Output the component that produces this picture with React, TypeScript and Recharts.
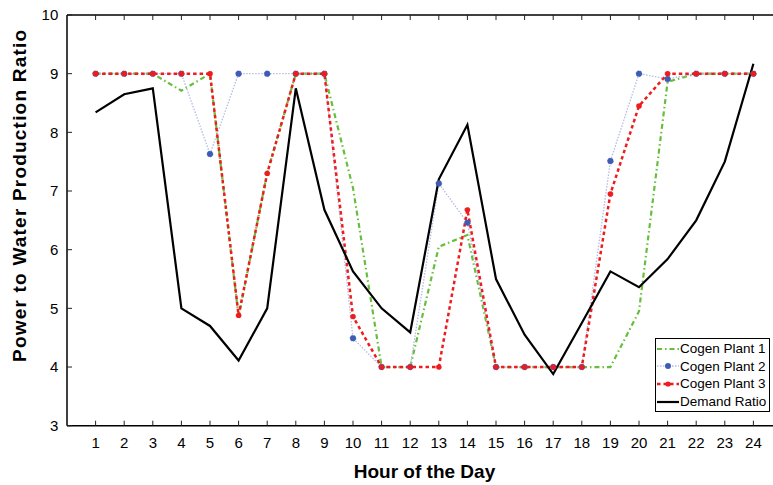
import { Legend, Line, LineChart, XAxis, YAxis } from "recharts";

const hours = [1, 2, 3, 4, 5, 6, 7, 8, 9, 10, 11, 12, 13, 14, 15, 16, 17, 18, 19, 20, 21, 22, 23, 24];
const cogenPlant1 = [9, 9, 9, 8.71, 9, 4.86, 7.31, 9, 9, 7.05, 4, 4, 6.05, 6.25, 4, 4, 4, 4, 4, 4.95, 8.86, 9, 9, 9];
const cogenPlant2 = [9, 9, 9, 9, 7.63, 9, 9, 9, 9, 4.49, 4, 4, 7.13, 6.46, 4, 4, 4, 4, 7.51, 9, 8.91, 9, 9, 9];
const cogenPlant3 = [9, 9, 9, 9, 9, 4.88, 7.3, 9, 9, 4.86, 4, 4, 4, 6.68, 4, 4, 4, 4, 6.95, 8.45, 9, 9, 9, 9];
const demandRatio = [8.34, 8.65, 8.75, 5.0, 4.7, 4.11, 5.0, 8.75, 6.68, 5.63, 5.0, 4.59, 7.2, 8.13, 5.5, 4.55, 3.88, 4.75, 5.63, 5.36, 5.84, 6.5, 7.5, 9.17];
const yTicks = [3, 4, 5, 6, 7, 8, 9, 10];

const rows = hours.map((h, i) => ({
  hour: h,
  c1: cogenPlant1[i],
  c2: cogenPlant2[i],
  c3: cogenPlant3[i],
  demand: demandRatio[i],
}));

const font = '"Liberation Sans", Arial, sans-serif';

const series = [
  { key: "c1", name: "Cogen Plant 1", color: "#66bf3c", width: 2.2, dash: "5 3 1.5 3", marker: null, r: 0 },
  { key: "c2", name: "Cogen Plant 2", color: "#b3bce2", width: 1.3, dash: "1.5 1.5", marker: "#3f5cb5", r: 3 },
  { key: "c3", name: "Cogen Plant 3", color: "#ee1c1c", width: 2.5, dash: "3.5 3", marker: "#ee1c1c", r: 2.6 },
  { key: "demand", name: "Demand Ratio", color: "#000000", width: 2.2, dash: undefined, marker: null, r: 0 },
];

function LegendBox() {
  return (
    <div
      style={{
        border: "1.5px solid #000",
        background: "#fff",
        padding: "1px 3px 1px 1px",
        fontFamily: font,
        fontSize: 13.5,
        lineHeight: "17.6px",
        color: "#000",
      }}
    >
      {series.map((s) => (
        <div key={s.key} style={{ display: "flex", alignItems: "center", whiteSpace: "nowrap" }}>
          <svg width={22} height={10} style={{ marginRight: 1 }}>
            <line x1={0} x2={22} y1={5} y2={5} stroke={s.color} strokeWidth={s.width} strokeDasharray={s.dash} />
            {s.marker && <circle cx={11} cy={5} r={s.r} fill={s.marker} />}
          </svg>
          <span>{s.name}</span>
        </div>
      ))}
    </div>
  );
}

export default function App() {
  return (
    <div style={{ position: "absolute", left: 0, top: 0, width: 773, height: 485, overflow: "hidden", background: "#fff" }}>
      <LineChart width={800} height={485} data={rows} margin={{ top: 0, right: 18, bottom: 0, left: 0 }}>
        <XAxis
          xAxisId="top"
          orientation="top"
          dataKey="hour"
          type="number"
          domain={[0, 25]}
          ticks={hours}
          interval={0}
          height={15}
          tickSize={-5}
          tickFormatter={() => ""}
          axisLine={{ stroke: "#000", strokeWidth: 1.5 }}
          tickLine={{ stroke: "#222", strokeWidth: 1 }}
        />
        <XAxis
          dataKey="hour"
          type="number"
          domain={[0, 25]}
          ticks={hours}
          interval={0}
          height={59.3}
          tickSize={-5}
          tickMargin={17}
          tick={{ fill: "#000", fontSize: 15, fontFamily: font }}
          axisLine={{ stroke: "#000", strokeWidth: 1.5 }}
          tickLine={{ stroke: "#222", strokeWidth: 1 }}
          label={{
            value: "Hour of the Day",
            position: "insideBottom",
            offset: 7,
            style: { fill: "#000", fontSize: 19, fontWeight: "bold", fontFamily: font },
          }}
        />
        <YAxis
          type="number"
          domain={[3, 10]}
          ticks={yTicks}
          interval={0}
          width={67}
          tickSize={-5}
          tickMargin={13.7}
          tick={{ fill: "#000", fontSize: 15, fontFamily: font }}
          axisLine={{ stroke: "#000", strokeWidth: 1.5 }}
          tickLine={{ stroke: "#222", strokeWidth: 1 }}
          label={{
            content: (p: any) => {
              const vb = p.viewBox;
              const cx = vb.x + 20;
              const cy = vb.y + vb.height / 2 - 25;
              return (
                <text
                  x={cx}
                  y={cy}
                  transform={`rotate(-90 ${cx} ${cy})`}
                  textAnchor="middle"
                  dominantBaseline="central"
                  fill="#000"
                  fontSize={19}
                  fontWeight="bold"
                  fontFamily={font}
                  letterSpacing={1.2}
                >
                  Power to Water Production Ratio
                </text>
              );
            },
          }}
        />
        <Legend
          layout="vertical"
          align="center"
          verticalAlign="middle"
          content={() => <LegendBox />}
          wrapperStyle={{ position: "absolute", left: 655, top: 338, width: "auto", height: "auto" }}
        />
        {series.map((s) => (
          <Line
            key={s.key}
            type="linear"
            dataKey={s.key}
            name={s.name}
            stroke={s.color}
            strokeWidth={s.width}
            strokeDasharray={s.dash}
            dot={s.marker ? { r: s.r, fill: s.marker, stroke: s.marker, strokeWidth: 0.5 } : false}
            activeDot={false}
            isAnimationActive={false}
          />
        ))}
      </LineChart>
    </div>
  );
}
